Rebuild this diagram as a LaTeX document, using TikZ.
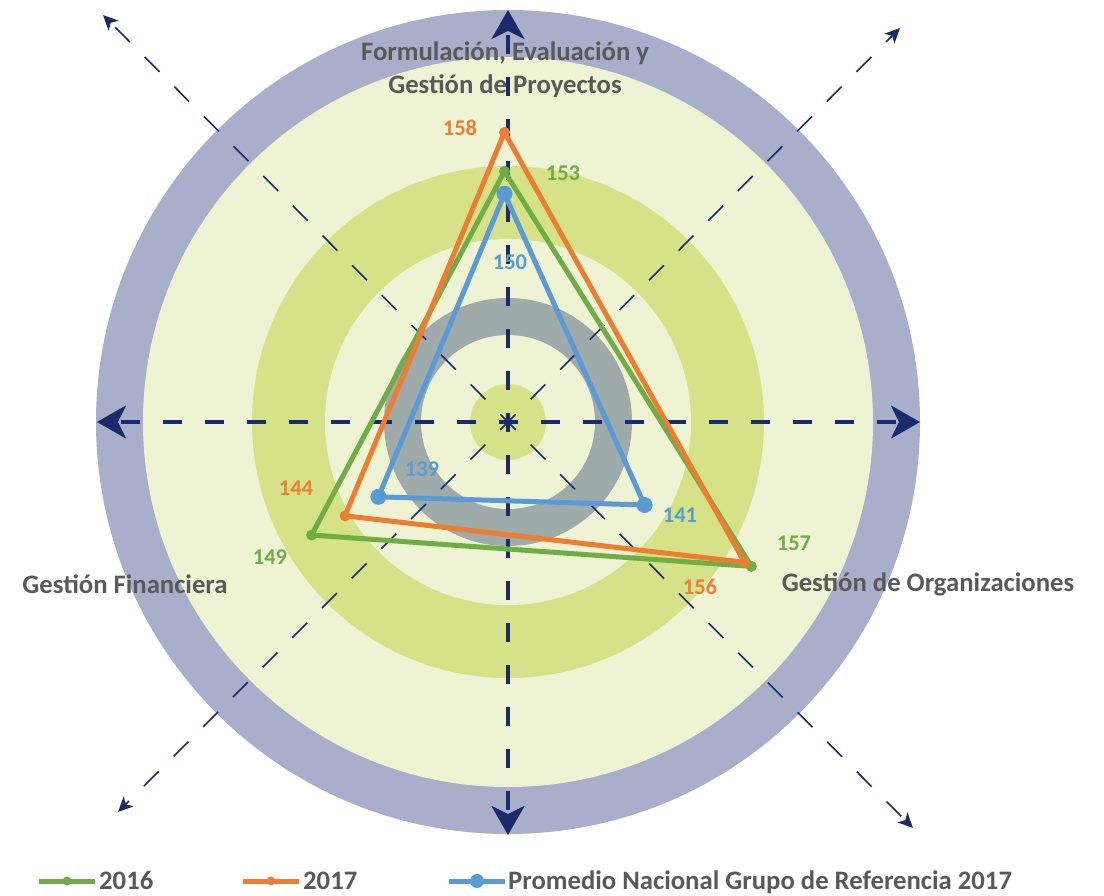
\documentclass[tikz,border=0pt]{standalone}
\usepackage{fontspec}
\setmainfont{Carlito}
\usetikzlibrary{arrows.meta,calc}
\definecolor{ringblue}{HTML}{A9AFCA}
\definecolor{paleg}{HTML}{EEF3D3}
\definecolor{midg}{HTML}{D6E288}
\definecolor{greyring}{HTML}{9FAAAB}
\definecolor{navy}{HTML}{1B2A6B}
\definecolor{cor}{HTML}{ED7D31}
\definecolor{cgr}{HTML}{70AD47}
\definecolor{cbl}{HTML}{5B9BD5}
\definecolor{txt}{HTML}{595959}
\begin{document}
\begin{tikzpicture}[x=1pt,y=-1pt,
  mainaxis/.style={navy,line width=3.5pt,dash pattern=on 19pt off 23pt,dash phase=9.5pt,
    -{Stealth[length=29pt,width=33pt,inset=8pt]}},
  diagaxis/.style={navy,line width=1.6pt,dash pattern=on 21pt off 21pt,dash phase=10pt,
    -{Stealth[length=15pt,width=14pt,inset=4pt]}},
  series/.style={line width=5pt,line join=round},
  val/.style={font=\bfseries\fontsize{22.5}{24}\selectfont,inner sep=0pt},
  axlab/.style={font=\bfseries\fontsize{26.7}{33}\selectfont,text=txt,inner sep=0pt,align=center},
  leg/.style={font=\bfseries\fontsize{26.7}{28}\selectfont,text=txt,inner sep=0pt,anchor=base west}]
\useasboundingbox (0,0) rectangle (1104,895);
\coordinate (O) at (508,422);
% rings
\fill[ringblue] (O) circle (412pt);
\fill[paleg] (O) circle (365pt);
\fill[midg] (O) circle (256pt);
\fill[paleg] (O) circle (183pt);
\fill[greyring] (O) circle (124pt);
\fill[paleg] (O) circle (87pt);
\fill[midg] (O) circle (38pt);
% axes
\coordinate (T) at (508,10);
\coordinate (B) at (508,835);
\coordinate (L) at (97,422);
\coordinate (R) at (920,422);
\coordinate (TL) at (103,15);
\coordinate (TR) at (900,28);
\coordinate (BL) at (118,812);
\coordinate (BR) at (913,828);
\foreach \e in {TL,TR,BL,BR} \draw[diagaxis] (O) -- (\e);
\foreach \e in {T,B,L,R} \draw[mainaxis] (O) -- (\e);
% series vertices
\coordinate (g1) at (504.5,171.3);
\coordinate (g2) at (751.4,566.4);
\coordinate (g3) at (311.6,535);
\coordinate (o1) at (504.5,132.3);
\coordinate (o2) at (744.5,562.3);
\coordinate (o3) at (345,515.8);
\coordinate (b1) at (504.5,193.7);
\coordinate (b2) at (644.6,505);
\coordinate (b3) at (378.4,496.8);
\draw[series,cgr] (g1) -- (g2) -- (g3) -- cycle;
\foreach \p in {g1,g2,g3} \fill[cgr] (\p) circle (5.5pt);
\draw[series,cor] (o1) -- (o2) -- (o3) -- cycle;
\foreach \p in {o1,o2,o3} \fill[cor] (\p) circle (5.5pt);
\draw[series,cbl] (b1) -- (b2) -- (b3) -- cycle;
\foreach \p in {b1,b2,b3} \fill[cbl] (\p) circle (8pt);
% value labels
\node[val,text=cor] (l158) at (460,128) {158};
\node[val,text=cgr] (l153) at (563,173) {153};
\node[val,text=cbl] (l150) at (510,262) {150};
\node[val,text=cbl] (l139) at (422,469) {139};
\node[val,text=cor] (l144) at (296,488) {144};
\node[val,text=cgr] (l149) at (270,557) {149};
\node[val,text=cbl] (l141) at (680,515) {141};
\node[val,text=cgr] (l157) at (794,543) {157};
\node[val,text=cor] (l156) at (700,587) {156};
% axis labels
\node[axlab] (top) at (505,70) {Formulación, Evaluación y\\Gestión de Proyectos};
\node[axlab] (left) at (125,584) {Gestión Financiera};
\node[axlab] (right) at (928,584) {Gestión de Organizaciones};
% legend
\coordinate (lg1a) at (39,881); \coordinate (lg1b) at (95,881);
\draw[cgr,line width=5pt] (lg1a) -- (lg1b);
\fill[cgr] ($(lg1a)!0.5!(lg1b)$) circle (4.5pt);
\node[leg] (t2016) at (99,889.5) {2016};
\coordinate (lg2a) at (243,881); \coordinate (lg2b) at (299,881);
\draw[cor,line width=5pt] (lg2a) -- (lg2b);
\fill[cor] ($(lg2a)!0.5!(lg2b)$) circle (4.5pt);
\node[leg] (t2017) at (303,889.5) {2017};
\coordinate (lg3a) at (449,881); \coordinate (lg3b) at (505,881);
\draw[cbl,line width=5pt] (lg3a) -- (lg3b);
\fill[cbl] ($(lg3a)!0.5!(lg3b)$) circle (7pt);
\node[leg] (tprom) at (508,889.5) {Promedio Nacional Grupo de Referencia 2017};
\end{tikzpicture}
\end{document}
